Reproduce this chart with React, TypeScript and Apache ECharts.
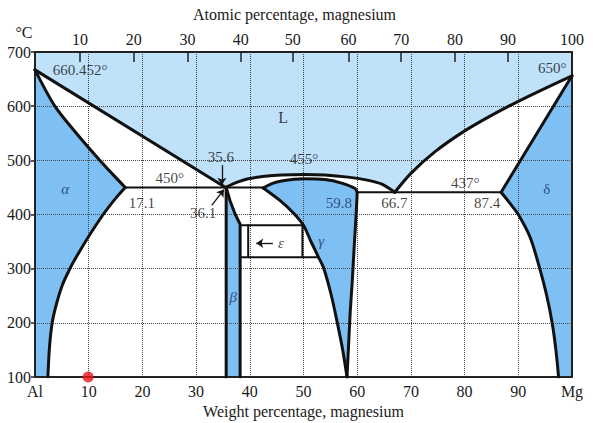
import React, { useEffect, useRef } from 'react';
import * as echarts from 'echarts';

// ---------- axis data ----------
const atomicLabels = [10, 20, 30, 40, 50, 60, 70, 80, 90, 100];
const atomicTickWt = [8.4, 18.4, 28.4, 38.3, 48.0, 58.4, 68.2, 78.2, 88.1, 100];

// ---------- phase boundaries [wt% Mg, °C] ----------
const leftLiquidus = [[0, 667], [35.5, 450]];
const alphaSolidus = [[0, 667], [3.7, 600], [7.7, 550], [11.8, 503], [14.4, 475], [16.8, 450]];
const alphaSolvus = [[16.8, 450], [15.2, 432], [12.7, 400], [9.9, 358], [7.6, 320], [6.5, 300], [5.1, 270], [4.0, 235], [3.2, 200], [2.7, 155], [2.4, 100]];
const eutectic450 = [[16.8, 450], [42.5, 450]];
const betaLeft = [[35.6, 450], [35.6, 100]];
const betaRight = [[35.6, 450], [36.3, 426], [37.3, 400], [38.2, 382], [38.2, 100]];
const gammaLiquidus = [[35.5, 450], [37.2, 458], [39.7, 466], [42.8, 470.5], [45.9, 473], [50, 474], [54, 473], [58.3, 469], [62.1, 463], [64.6, 456], [67, 441]];
const gammaTop = [[42.5, 449], [44.1, 457], [45.9, 462], [50, 466], [54, 464.5], [57.1, 458], [59.6, 448], [60.0, 441]];
const gammaRight = [[60.0, 441], [59.8, 400], [59.4, 334], [59.1, 280], [58.7, 220], [58.4, 160], [58.1, 100]];
const gammaLeft = [[42.5, 449], [45.6, 426], [48.2, 402], [50, 380], [51.3, 352], [52.8, 321], [53.8, 300], [55.2, 250], [56.3, 200], [57.3, 150], [58.1, 100]];
const eutectic440 = [[60.0, 441], [86.8, 441]];
const rightLiquidus = [[67, 441], [70, 476], [74.5, 516], [79.8, 553], [85, 583], [90, 609], [95, 633], [100, 656]];
const deltaSolidus = [[100, 656], [86.8, 441]];
const deltaSolvus = [[86.8, 441], [88.5, 420], [90.0, 400], [92.2, 358], [94.0, 300], [95.3, 250], [96.3, 200], [97.0, 150], [97.5, 100]];
const epsilonTop = [[38.2, 380], [50, 380]];
const epsilonBottom = [[38.2, 321], [52.8, 321]];
const epsilonPhase = [[39.7, 380], [39.7, 321]];
const epsilonRight = [[49.8, 380], [49.8, 321]];

// ---------- annotations ----------
const labelTexts = ['660.452°', '650°', 'L', 'α', '450°', '17.1', '35.6', '36.1', '455°', '59.8', '66.7', '437°', '87.4', 'δ', 'γ', 'β', 'ε'];
const labelWt = [8.4, 96.3, 46.2, 5.6, 25.1, 19.9, 34.6, 31.3, 50.1, 56.6, 66.9, 80.1, 84.2, 95.3, 53.3, 36.9, 45.8];
const labelT = [666, 670, 579, 448, 467, 421, 506, 402, 502, 421, 421, 459, 421, 448, 352, 247, 347];
const phaseNames = ['α', 'β', 'γ', 'δ', '59.8'];
const italicNames = ['α', 'β', 'γ', 'ε'];

const arrows = [
  [[34.8, 491], [34.8, 455]],
  [[32.9, 417], [35.2, 446]],
  [[44.3, 347], [41.2, 347]],
];

const sampleDot = [[9.9, 100]];

const LIGHT = '#bfe1f9';
const DARK = '#7ec0f3';
const INK = '#111111';
const NAVY = '#1d2d5c';
const FONT = "'Liberation Serif', 'DejaVu Serif', serif";

export default function App() {
  const ref = useRef<HTMLDivElement>(null);

  useEffect(() => {
    document.body.style.margin = '0';
    if (!ref.current) return;
    const chart = echarts.init(ref.current, undefined, { renderer: 'svg' });

    const liquidPoly = [[0, 700], ...leftLiquidus, ...gammaLiquidus.slice(1), ...rightLiquidus.slice(1), [100, 700]];
    const alphaPoly = [...alphaSolidus, ...alphaSolvus.slice(1), [0, 100]];
    const betaPoly = [...betaRight, [35.6, 100]];
    const gammaPoly = [...gammaTop, ...gammaRight.slice(1), ...gammaLeft.slice().reverse().slice(1)];
    const deltaPoly = [...deltaSolidus, ...deltaSolvus.slice(1), [100, 100]];
    const fills = [
      { pts: liquidPoly, color: LIGHT },
      { pts: alphaPoly, color: DARK },
      { pts: betaPoly, color: DARK },
      { pts: gammaPoly, color: DARK },
      { pts: deltaPoly, color: DARK },
    ];

    const lineSeries = (data: number[][], width: number, smooth: number) => ({
      type: 'line',
      data,
      symbol: 'none',
      showSymbol: false,
      silent: true,
      smooth,
      z: 3,
      lineStyle: { color: '#111', width, cap: 'round', join: 'round' },
    });

    const boundaries: [number[][], number, number][] = [
      [leftLiquidus, 3, 0], [alphaSolidus, 3, 0.3], [alphaSolvus, 3, 0.3], [eutectic450, 2, 0],
      [betaLeft, 3, 0], [betaRight, 3, 0], [gammaLiquidus, 3, 0.3], [gammaTop, 3, 0.3],
      [gammaRight, 3, 0.3], [gammaLeft, 3, 0.3], [eutectic440, 2, 0], [rightLiquidus, 3, 0.3],
      [deltaSolidus, 3, 0], [deltaSolvus, 3, 0.3], [epsilonTop, 2, 0], [epsilonBottom, 2, 0],
      [epsilonPhase, 2, 0], [epsilonRight, 2, 0],
    ];

    const textStyle = { fontFamily: FONT, fontSize: 16, color: '#1a1a1a' };

    const option: any = {
      animation: false,
      grid: { left: 35, right: 25, top: 52, bottom: 46, containLabel: false, outerBoundsMode: 'none' },
      xAxis: [
        {
          type: 'value', min: 0, max: 100, interval: 10, position: 'bottom', z: 2,
          axisLine: { show: true, onZero: false, lineStyle: { color: '#222', width: 2 } },
          axisTick: { show: false },
          axisLabel: {
            margin: 6, ...textStyle,
            formatter: (v: number) => (v === 0 ? 'Al' : v === 100 ? 'Mg' : String(v)),
          },
          splitLine: { show: true, lineStyle: { type: 'dotted', color: '#444', width: 1 } },
          name: 'Weight percentage, magnesium', nameLocation: 'middle', nameGap: 26,
          nameTextStyle: { ...textStyle },
        },
        {
          type: 'value', min: 0, max: 100, position: 'top', z: 2,
          axisLine: { show: true, onZero: false, lineStyle: { color: '#222', width: 2 } },
          axisTick: { show: true, inside: true, length: 10, customValues: atomicTickWt, lineStyle: { color: '#222', width: 1.5 } },
          axisLabel: {
            margin: 5, ...textStyle, customValues: atomicTickWt,
            formatter: (v: number) => {
              let best = 0;
              atomicTickWt.forEach((w, i) => { if (Math.abs(w - v) < Math.abs(atomicTickWt[best] - v)) best = i; });
              return String(atomicLabels[best]);
            },
          },
          splitLine: { show: false },
          name: 'Atomic percentage, magnesium', nameLocation: 'middle', nameGap: 30,
          nameTextStyle: { ...textStyle, padding: [0, 18, 0, 0] },
        },
      ],
      yAxis: [
        {
          type: 'value', min: 100, max: 700, interval: 100, position: 'left', z: 2,
          axisLine: { show: true, onZero: false, lineStyle: { color: '#222', width: 2 } },
          axisTick: { show: true, length: 4, lineStyle: { color: '#222', width: 1.5 } },
          axisLabel: { margin: 4, ...textStyle },
          splitLine: { show: true, lineStyle: { type: 'dotted', color: '#444', width: 1 } },
          name: '°C', nameLocation: 'end', nameGap: 12,
          nameTextStyle: { ...textStyle, padding: [0, 22, 0, 0] },
        },
        {
          type: 'value', min: 100, max: 700, interval: 100, position: 'right', z: 2,
          axisLine: { show: true, onZero: false, lineStyle: { color: '#222', width: 2 } },
          axisTick: { show: false },
          axisLabel: { show: false },
          splitLine: { show: false },
        },
      ],
      series: [
        {
          type: 'custom',
          z: 1,
          silent: true,
          data: fills.map((_, i) => [i, i]),
          renderItem: (params: any, api: any) => {
            const f = fills[params.dataIndex];
            return {
              type: 'polygon',
              shape: { points: f.pts.map((p) => api.coord(p)) },
              style: { fill: f.color, stroke: 'none' },
            };
          },
        },
        ...boundaries.map(([d, w, s]) => lineSeries(d, w, s)),
        {
          type: 'line',
          data: [],
          silent: true,
          z: 4,
          markLine: {
            silent: true,
            symbol: ['none', 'arrow'],
            symbolSize: 7,
            label: { show: false },
            lineStyle: { color: '#111', width: 1.3, type: 'solid' },
            data: arrows.map(([a, b]) => [{ coord: a }, { coord: b }]),
          },
        },
        {
          type: 'scatter',
          z: 5,
          silent: true,
          symbolSize: 1,
          itemStyle: { color: 'rgba(0,0,0,0)' },
          data: labelTexts.map((t, i) => ({
            value: [labelWt[i], labelT[i]],
            label: {
              show: true,
              position: 'inside',
              formatter: t,
              fontFamily: FONT,
              fontSize: t === 'L' ? 16 : 15,
              fontStyle: italicNames.includes(t) ? 'italic' : 'normal',
              color: phaseNames.includes(t) ? NAVY : INK,
              textBorderWidth: 0,
              textBorderColor: 'transparent',
            },
          })),
        },
        {
          type: 'scatter',
          z: 6,
          silent: true,
          clip: false,
          symbolSize: 11,
          itemStyle: { color: '#e8141b' },
          data: sampleDot,
        },
      ],
    };

    chart.setOption(option);
    return () => chart.dispose();
  }, []);

  return <div ref={ref} style={{ width: 597, height: 423 }} />;
}
